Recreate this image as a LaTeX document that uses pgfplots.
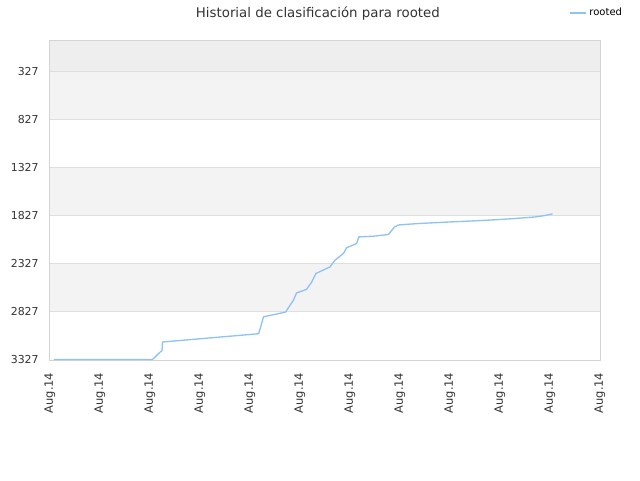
\documentclass[border=0pt]{standalone}
\usepackage{fontspec}
\setmainfont{DejaVu Sans}
\usepackage{pgfplots}
\usepackage{pgfplotstable}
\pgfplotsset{compat=1.18}

\definecolor{txtgray}{HTML}{333333}
\definecolor{bandA}{HTML}{EEEEEE}
\definecolor{bandB}{HTML}{F3F3F3}
\definecolor{gridgray}{HTML}{DEDEDE}
\definecolor{bordergray}{HTML}{D4D4D4}
\definecolor{rootblue}{HTML}{8EC3F3}

\pgfplotstableread{
x     rank
0.08  3322
2.05  3322
2.21  3241
2.24  3230
2.25  3140
4.17  3054
4.21  2990
4.27  2878
4.71  2829
4.87  2704
4.93  2630
5.13  2593
5.23  2520
5.32  2427
5.60  2359
5.70  2289
5.87  2219
5.93  2161
6.13  2116
6.18  2047
6.47  2040
6.77  2022
6.89  1944
6.97  1923
7.37  1908
7.87  1895
8.33  1884
8.73  1874
9.07  1864
9.37  1853
9.70  1840
9.90  1825
10.05 1808
}\rootedtab

\begin{document}
\begin{tikzpicture}
\begin{axis}[
    set layers,
    at={(0,0)}, anchor=south west,
    scale only axis,
    width=412.5pt, height=240pt,
    xmin=0, xmax=11,
    ymin=0, ymax=3327,
    y dir=reverse,
    xtick={0,1,...,11},
    xticklabels={Aug.14,Aug.14,Aug.14,Aug.14,Aug.14,Aug.14,Aug.14,Aug.14,Aug.14,Aug.14,Aug.14,Aug.14},
    ytick={327,827,1327,1827,2327,2827,3327},
    yticklabels={327,827,1327,1827,2327,2827,3327},
    major tick length=0pt,
    ymajorgrids=true,
    grid style={gridgray, line width=0.75pt},
    axis line style={bordergray, line width=0.75pt},
    tick label style={font=\fontsize{8.2}{10}\selectfont, text=txtgray},
    /pgf/number format/assume math mode=true,
    xticklabel style={rotate=90, anchor=east, xshift=-6pt, font=\fontsize{8.6}{10}\selectfont},
    yticklabel style={xshift=-5pt},
    title={Historial de clasificación para rooted},
    title style={at={(0.487,1)}, anchor=center, yshift=14pt, font=\fontsize{10}{12}\selectfont, text=txtgray},
    legend style={draw=none, fill=none, at={(0.944,1.084)}, anchor=west, inner sep=0pt, font=\fontsize{7.5}{9}\selectfont},
    legend image code/.code={\draw[#1, line width=1pt] (0pt,0pt) -- (9pt,0pt); \path (0pt,0pt) -- (12pt,0pt);},
]
\begin{pgfonlayer}{axis background}
\fill[bandA] (axis cs:0,0) rectangle (axis cs:11,327);
\fill[bandB] (axis cs:0,327) rectangle (axis cs:11,827);
\fill[bandB] (axis cs:0,1327) rectangle (axis cs:11,1827);
\fill[bandB] (axis cs:0,2327) rectangle (axis cs:11,2827);
\end{pgfonlayer}
\addplot[rootblue, line width=1pt] table[x=x, y=rank] {\rootedtab};
\addlegendentry{rooted}
\end{axis}
\pgfresetboundingbox
\path[use as bounding box] (-37.5pt,-90pt) rectangle (442.5pt,270pt);
\end{tikzpicture}
\end{document}
